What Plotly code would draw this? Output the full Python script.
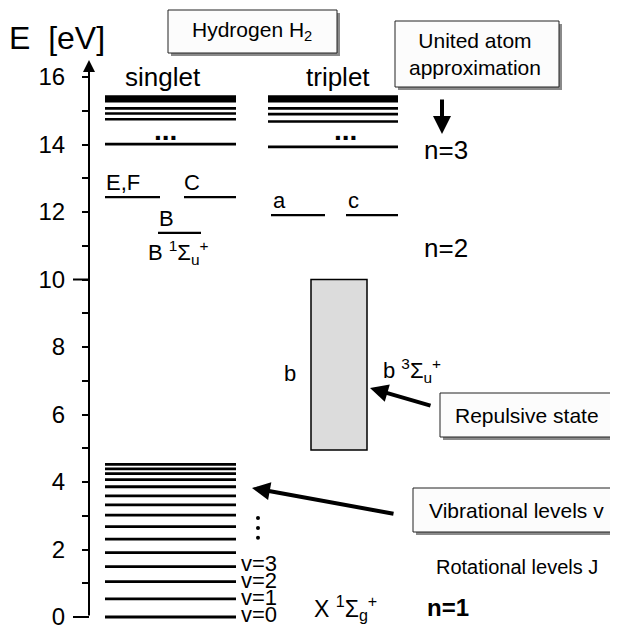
import plotly.graph_objects as go

# ---------------- data (energies in eV) ----------------
singlet_levels = [15.42, 15.35, 15.28, 15.07, 14.92, 14.75, 14.01]
triplet_levels = [15.42, 15.35, 15.28, 15.07, 14.90, 14.68, 13.93]
vib_levels = [4.52, 4.39, 4.25, 4.07, 3.86, 3.59, 3.32, 3.02, 2.68, 2.31,
              1.91, 1.49, 1.05, 0.54, 0.0]
vib_labels = ["v=0", "v=1", "v=2", "v=3"]
vib_label_E = [0.08, 0.59, 1.09, 1.59]
vib_dots_E = [2.93, 2.64, 2.35]
EF_level = 12.44
C_level = 12.44
B_level = 11.38
a_level = 11.91
c_level = 11.91
b_top = 10.0
b_bottom = 4.95
tick_vals = list(range(0, 17))
tick_text = [str(v) if v % 2 == 0 else "" for v in tick_vals]

# ---------------- geometry helpers ----------------
PAGE_W, PAGE_H = 618, 627
OFF = 8                      # default page margin of the browser
W, H = PAGE_W - OFF, PAGE_H - OFF
Y0 = 617.0                   # window pixel of E = 0
PX_PER_EV = 33.75


def e_of(wy):
    return (Y0 - wy) / PX_PER_EV


def px(x):
    return (x - OFF) / W


def py(y):
    return 1 - (y - OFF) / H


FONT = "Liberation Sans, Arial, Helvetica, sans-serif"

fig = go.Figure()


def add_levels(levels, x0, x1, width):
    xs, ys = [], []
    for e in levels:
        xs += [x0, x1, None]
        ys += [e, e, None]
    fig.add_trace(go.Scatter(x=xs, y=ys, mode="lines",
                             line=dict(color="black", width=width),
                             hoverinfo="skip", showlegend=False, cliponaxis=False))


add_levels(singlet_levels, 105, 236, 2.6)
add_levels(triplet_levels, 268, 398, 2.6)
add_levels(vib_levels, 105, 236, 2.8)
add_levels([EF_level], 105, 160, 2.2)
add_levels([C_level], 184, 236, 2.2)
add_levels([B_level], 158, 201, 2.2)
add_levels([a_level], 271, 325, 2.2)
add_levels([c_level], 346, 398, 2.2)

# vertical dots
fig.add_trace(go.Scatter(x=[258] * len(vib_dots_E), y=vib_dots_E, mode="markers",
                         marker=dict(color="black", size=4),
                         hoverinfo="skip", showlegend=False))

shapes = []
# repulsive b state box
shapes.append(dict(type="rect", xref="x", yref="y", x0=311, x1=367,
                   y0=b_bottom, y1=b_top, fillcolor="#dcdcdc",
                   line=dict(color="black", width=1.5), layer="below"))
# longer ticks at 0 and 10
for v in (0, 10):
    shapes.append(dict(type="line", xref="x", yref="y", x0=73, x1=89,
                       y0=v, y1=v, line=dict(color="black", width=2)))


def shadow_box(x0, y0, x1, y1):
    shapes.append(dict(type="rect", xref="paper", yref="paper",
                       x0=px(x0 + 3), x1=px(x1 + 3), y0=py(y1 + 3), y1=py(y0 + 3),
                       fillcolor="#8a8a8a", line=dict(width=0)))
    shapes.append(dict(type="rect", xref="paper", yref="paper",
                       x0=px(x0), x1=px(x1), y0=py(y1), y1=py(y0),
                       fillcolor="#fcfcfc", line=dict(color="#222222", width=1)))


shadow_box(168, 10, 337, 53)
shadow_box(395, 21, 559, 87)
shadow_box(440, 393, 613, 437)
shadow_box(413, 488, 614, 532)

ann = []


def text(x, y, s, size=22, xanchor="left", yanchor="middle", bold=False, ref="paper"):
    if bold:
        s = "<b>" + s + "</b>"
    if ref == "paper":
        ann.append(dict(x=px(x), y=py(y), xref="paper", yref="paper", text=s,
                        showarrow=False, xanchor=xanchor, yanchor=yanchor,
                        font=dict(family=FONT, size=size, color="black")))
    else:
        ann.append(dict(x=x, y=y, xref="x", yref="y", text=s,
                        showarrow=False, xanchor=xanchor, yanchor=yanchor,
                        font=dict(family=FONT, size=size, color="black")))


text(7, 38, "E\u00a0\u00a0[eV]", size=32)
text(252, 31, "Hydrogen H<sub>2</sub>", size=21, xanchor="center")
text(163, 77, "singlet", size=26, xanchor="center")
text(338, 77, "triplet", size=26, xanchor="center")
text(407, 54, "United atom<br>approximation", size=21)
text(165, 130, "...", size=28, xanchor="center", bold=True)
text(345, 130, "...", size=28, xanchor="center", bold=True)
text(422, 150, "n=3", size=26)
text(422, 248, "n=2", size=26)
text(425, 607, "n=1", size=24, bold=True)

# state labels sitting on their levels
text(104, EF_level, "E,F", size=22, yanchor="bottom", ref="data")
text(182, C_level, "C", size=22, yanchor="bottom", ref="data")
text(157, B_level, "B", size=22, yanchor="bottom", ref="data")
text(271, a_level, "a", size=22, yanchor="bottom", ref="data")
text(346, c_level, "c", size=22, yanchor="bottom", ref="data")
text(146, 252, "B <sup>1</sup>Σ<sub>u</sub><sup>+</sup>", size=22)
text(290, 373, "b", size=22, xanchor="center")
text(381, 370, "b <sup>3</sup>Σ<sub>u</sub><sup>+</sup>", size=22)
text(527, 415, "Repulsive state", size=21, xanchor="center")
text(427, 510, "Vibrational levels v", size=21)
text(434, 567, "Rotational levels J", size=20)
text(312, 608, "X <sup>1</sup>Σ<sub>g</sub><sup>+</sup>", size=23)

for lab, e in zip(vib_labels, vib_label_E):
    text(239, e, lab, size=22, ref="data")

# arrows
ann.append(dict(x=89, y=e_of(60), ax=89, ay=0, xref="x", yref="y",
                axref="x", ayref="y", text="", showarrow=True,
                arrowhead=2, arrowsize=1.2, arrowwidth=2, arrowcolor="black",
                standoff=0, startstandoff=0))
ann.append(dict(x=370, y=e_of(388), ax=62, ay=18, xref="x", yref="y",
                text="", showarrow=True, arrowhead=2, arrowsize=0.9,
                arrowwidth=4, arrowcolor="black"))
ann.append(dict(x=252, y=e_of(488), ax=143, ay=26, xref="x", yref="y",
                text="", showarrow=True, arrowhead=2, arrowsize=0.9,
                arrowwidth=4, arrowcolor="black"))
ann.append(dict(x=442, y=e_of(134), ax=0, ay=-36, xref="x", yref="y",
                text="", showarrow=True, arrowhead=2, arrowsize=0.9,
                arrowwidth=4, arrowcolor="black"))

fig.update_layout(
    width=W, height=H,
    margin=dict(l=0, r=0, t=0, b=0),
    paper_bgcolor="white", plot_bgcolor="white",
    showlegend=False,
    shapes=shapes, annotations=ann,
    xaxis=dict(range=[OFF, PAGE_W], visible=False, fixedrange=True),
    yaxis=dict(range=[e_of(PAGE_H), e_of(OFF)], anchor="free", position=px(89),
               side="left", showline=False, showgrid=False, zeroline=False,
               ticks="outside", ticklen=7, tickwidth=2, tickcolor="black",
               tickvals=tick_vals, ticktext=tick_text,
               tickfont=dict(family=FONT, size=24, color="black"),
               ticklabelstandoff=12, ticklabeloverflow="allow",
               automargin=False, fixedrange=True),
)

fig.write_html("out.html")
